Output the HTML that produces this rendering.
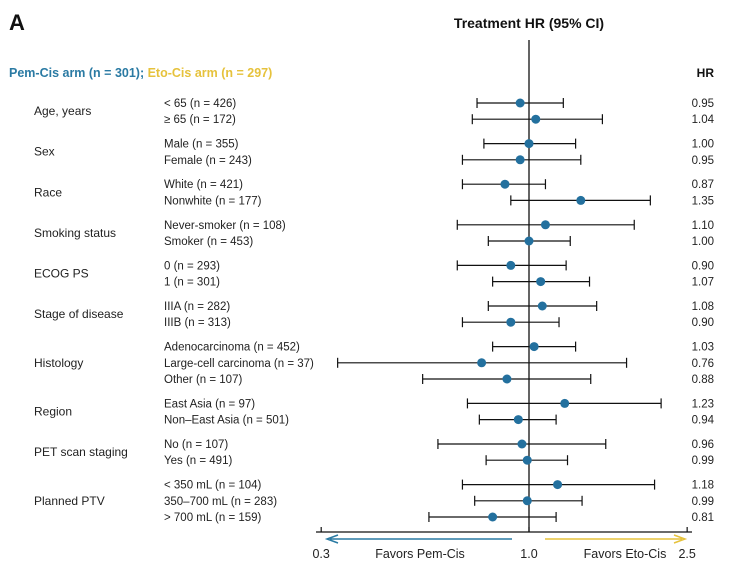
<!DOCTYPE html>
<html><head><meta charset="utf-8"><style>
body{margin:0;background:#fff;}
svg{display:block;font-family:"Liberation Sans",Arial,sans-serif;}
</style></head><body>
<svg id="chart" width="730" height="583">
<text x="9" y="30" font-size="22" font-weight="bold" fill="#111">A</text>
<text x="529" y="28" font-size="14" font-weight="bold" text-anchor="middle" fill="#111">Treatment HR (95% CI)</text>
<text x="9" y="77" font-size="12.5" font-weight="bold"><tspan fill="#2a7aa3">Pem-Cis arm (n = 301);</tspan><tspan fill="#e6c23c"> Eto-Cis arm (n = 297)</tspan></text>
<text x="714" y="77" font-size="12" font-weight="bold" text-anchor="end" fill="#111">HR</text>
<g id="rows"></g>
<line x1="316" y1="532" x2="692" y2="532" stroke="#111" stroke-width="1.3"/>
<g id="ticks"></g>
<text x="420" y="558" font-size="12.5" text-anchor="middle" fill="#222">Favors Pem-Cis</text>
<text x="625" y="558" font-size="12.5" text-anchor="middle" fill="#222">Favors Eto-Cis</text>
</svg>
<script>
const groups=["Age, years","Sex","Race","Smoking status","ECOG PS","Stage of disease","Histology","Region","PET scan staging","Planned PTV"];
const groupSizes=[2,2,2,2,2,2,3,2,2,3];
const subgroups=["< 65 (n = 426)","\u2265 65 (n = 172)","Male (n = 355)","Female (n = 243)","White (n = 421)","Nonwhite (n = 177)","Never-smoker (n = 108)","Smoker (n = 453)","0 (n = 293)","1 (n = 301)","IIIA (n = 282)","IIIB (n = 313)","Adenocarcinoma (n = 452)","Large-cell carcinoma (n = 37)","Other (n = 107)","East Asia (n = 97)","Non\u2013East Asia (n = 501)","No (n = 107)","Yes (n = 491)","< 350 mL (n = 104)","350\u2013700 mL (n = 283)","> 700 mL (n = 159)"];
const hr=[0.95,1.04,1.00,0.95,0.87,1.35,1.10,1.00,0.90,1.07,1.08,0.90,1.03,0.76,0.88,1.23,0.94,0.96,0.99,1.18,0.99,0.81];
const lower=[0.74,0.72,0.77,0.68,0.68,0.90,0.66,0.79,0.66,0.81,0.79,0.68,0.81,0.33,0.54,0.70,0.75,0.59,0.78,0.68,0.73,0.56];
const upper=[1.22,1.53,1.31,1.35,1.10,2.02,1.84,1.27,1.24,1.42,1.48,1.19,1.31,1.76,1.43,2.15,1.17,1.56,1.25,2.07,1.36,1.17];
const tickValues=[0.3,1.0,2.5];
const tickLabels=["0.3","1.0","2.5"];

const NS="http://www.w3.org/2000/svg";
const svg=document.getElementById('chart');
const rowsG=document.getElementById('rows');
const ticksG=document.getElementById('ticks');
const X0=529,K=172.6;
function xs(v){return X0+K*Math.log(v);}
function mk(tag,attrs,parent){const e=document.createElementNS(NS,tag);for(const k in attrs)e.setAttribute(k,attrs[k]);(parent||rowsG).appendChild(e);return e;}
// row y positions: 16.3px within group, 24.5 gap between groups
const ys=[];let y=103;
groupSizes.forEach((n,g)=>{for(let i=0;i<n;i++){ys.push(y);y+=16.2;}y+=8.2;});
// reference line
let ref=mk('line',{x1:X0,y1:40,x2:X0,y2:532,stroke:'#111','stroke-width':1.3});


let idx=0;
groups.forEach((gname,g)=>{
  const n=groupSizes[g];
  const gy=(ys[idx]+ys[idx+n-1])/2;
  const t=mk('text',{x:34,y:gy+4,'font-size':12,fill:'#222'});t.textContent=gname;
  
  
  for(let i=0;i<n;i++,idx++){
    const ry=ys[idx];
    const s=mk('text',{x:164,y:ry+4,'font-size':11.5,fill:'#222'});s.textContent=subgroups[idx];
    
    
    const h=mk('text',{x:714,y:ry+4,'font-size':11.5,fill:'#222','text-anchor':'end'});h.textContent=hr[idx].toFixed(2);
    
    
    const a=xs(lower[idx]),b=xs(upper[idx]);
    const l=mk('line',{x1:a,y1:ry,x2:b,y2:ry,stroke:'#111','stroke-width':1.2});
    
    
    [a,b].forEach(xx=>{const c=mk('line',{x1:xx,y1:ry-5,x2:xx,y2:ry+5,stroke:'#111','stroke-width':1.2});
      
      });
    const d=mk('circle',{cx:xs(hr[idx]),cy:ry,r:4.5,fill:'#23709e'});
    
    
  }
});
tickValues.forEach((v,i)=>{
  const tx=xs(v);
  const tl=mk('line',{x1:tx,y1:527,x2:tx,y2:532,stroke:'#111','stroke-width':1.2},ticksG);
  
  
  const tt=mk('text',{x:tx,y:558,'font-size':12.5,fill:'#222','text-anchor':'middle'},ticksG);tt.textContent=tickLabels[i];
  
  
});
// arrows
const a1=mk('path',{d:'M512 539 L330 539 M338 535 L327 539 L338 543',stroke:'#2a7aa3','stroke-width':1.5,fill:'none'},ticksG);


const a2=mk('path',{d:'M545 539 L682 539 M674 535 L685 539 L674 543',stroke:'#e6c23c','stroke-width':1.5,fill:'none'},ticksG);


</script>
</body></html>
